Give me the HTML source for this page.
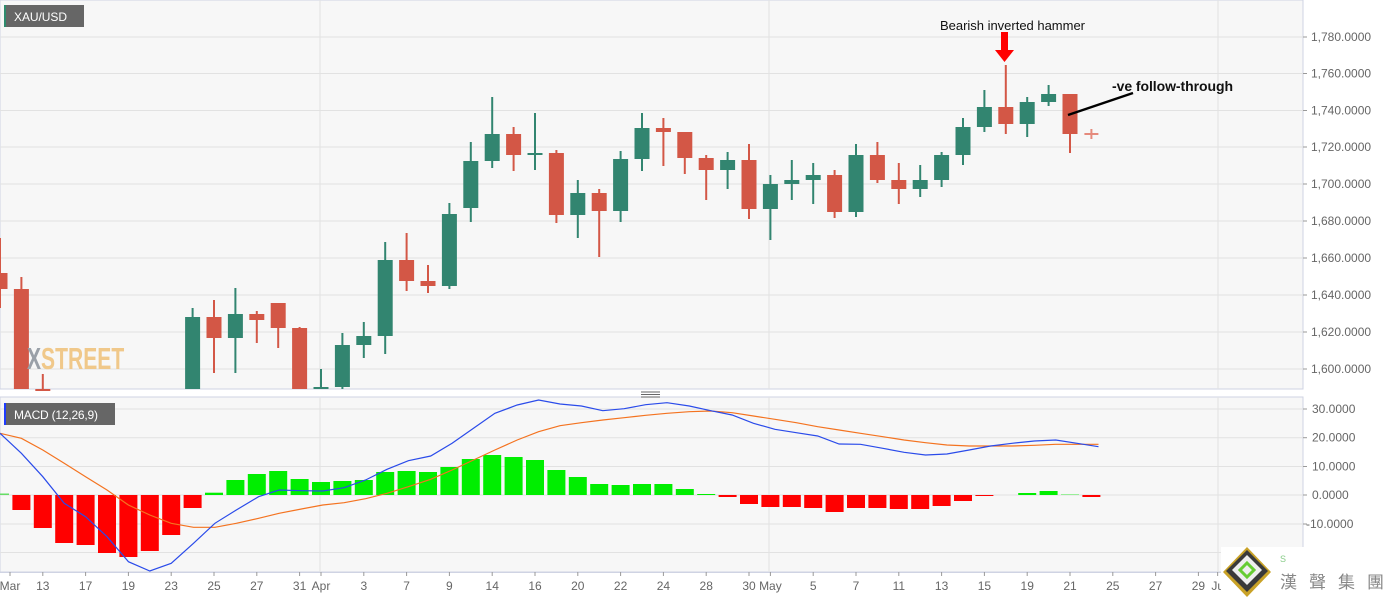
<!DOCTYPE html>
<html><head><meta charset="utf-8"><style>
html,body{margin:0;padding:0;background:#fff;width:1387px;height:598px;overflow:hidden}
svg text{font-family:"Liberation Sans",sans-serif}
</style></head><body>
<svg id="s" width="1387" height="598" xmlns="http://www.w3.org/2000/svg">
<rect x="0" y="0" width="1387" height="598" fill="#fff"/>
<rect x="0" y="0" width="1303" height="389" fill="#f7f7f7" stroke="#cfd3e3"/>
<rect x="0" y="397" width="1303" height="175" fill="#f7f7f7" stroke="#cfd3e3"/>
<g id="grid" stroke="#e2e2e2" stroke-width="1"></g>
<g id="mc"></g>
<g id="hist"></g>
<g id="lines" fill="none" stroke-width="1.2"></g>
<g id="axis" font-size="12" fill="#666"></g>
<g stroke="#666" stroke-width="1"><line x1="641" y1="392" x2="660" y2="392"/><line x1="641" y1="394.5" x2="660" y2="394.5"/><line x1="641" y1="397" x2="660" y2="397"/></g>
<rect x="4" y="5" width="80" height="22" fill="#666"/><rect x="4" y="5" width="2" height="22" fill="#2e8b6e"/>
<text x="14" y="21" font-size="12" fill="#fff" textLength="53">XAU/USD</text>
<rect x="4" y="403" width="111" height="22" fill="#666"/><rect x="4" y="403" width="2" height="22" fill="#1f3cff"/>
<text x="14" y="419" font-size="12" fill="#fff" textLength="84">MACD (12,26,9)</text>
<text x="27" y="369" font-size="31" font-weight="bold" fill="#9aa0a8" transform="translate(27 0) scale(0.68 1) translate(-27 0)">X<tspan fill="#f0c88a">STREET</tspan></text>
<text x="940" y="30" font-size="13" fill="#111" textLength="145">Bearish inverted hammer</text>
<rect x="1001" y="32" width="7" height="20" fill="#f00"/>
<polygon points="995,50 1014,50 1004.5,62" fill="#f00"/>
<text x="1112" y="91" font-size="14" font-weight="bold" fill="#111" textLength="121">-ve follow-through</text>
<line x1="1068" y1="115" x2="1133" y2="93" stroke="#000" stroke-width="2.5"/>
<rect x="1221" y="547" width="166" height="51" fill="#fff"/>
<polygon points="1247,547 1271,572 1247,597 1223,572" fill="#c9a227"/>
<polygon points="1247,550 1268,571 1247,592 1226,571" fill="#3a3a3a"/>
<polygon points="1247,555 1262,570 1247,585 1232,570" fill="#eee"/>
<polygon points="1247,563 1254,570 1247,577 1240,570" fill="none" stroke="#6c3" stroke-width="3"/>
<text x="1280" y="562" font-size="9" fill="#8c8">S</text>
<text x="1280" y="588" font-size="17" fill="#888" font-family="'Noto Sans CJK TC',sans-serif" letter-spacing="12">漢聲集團</text>
</svg>
<script>
var NS="http://www.w3.org/2000/svg";
function el(p,t,a,txt){var e=document.createElementNS(NS,t);for(var k in a)e.setAttribute(k,a[k]);if(txt!==undefined)e.textContent=txt;document.getElementById(p).appendChild(e);return e;}
var dx=21.4;
var ys=[37,73.5,110.5,147,184,221,258,295,332,369];
var lab=["1,780.0000","1,760.0000","1,740.0000","1,720.0000","1,700.0000","1,680.0000","1,660.0000","1,640.0000","1,620.0000","1,600.0000"];
ys.forEach(function(y,i){el("grid","line",{x1:0,x2:1303,y1:y,y2:y});el("grid","line",{x1:1303,x2:1307,y1:y,y2:y,stroke:"#999"});el("axis","text",{x:1311,y:y+4},lab[i]);});
[320,769,1218].forEach(function(x){el("grid","line",{x1:x,x2:x,y1:0,y2:389});el("grid","line",{x1:x,x2:x,y1:397,y2:572});});
var my=[[409,"30.0000"],[437.7,"20.0000"],[466.5,"10.0000"],[495,"0.0000"],[524,"-10.0000"],[552.5,""]];
my.forEach(function(m){el("grid","line",{x1:0,x2:1303,y1:m[0],y2:m[0]});el("grid","line",{x1:1303,x2:1307,y1:m[0],y2:m[0],stroke:"#999"});if(m[1])el("axis","text",{x:m[1][0]=="-"?1306:1312,y:m[0]+4},m[1]);});
el("grid","line",{x1:0,x2:1303,y1:572.5,y2:572.5,stroke:"#cfd3e3"});
var xl=[[0,"Mar"],[2,"13"],[4,"17"],[6,"19"],[8,"23"],[10,"25"],[12,"27"],[14,"31"],[15,"Apr"],[17,"3"],[19,"7"],[21,"9"],[23,"14"],[25,"16"],[27,"20"],[29,"22"],[31,"24"],[33,"28"],[35,"30"],[36,"May"],[38,"5"],[40,"7"],[42,"11"],[44,"13"],[46,"15"],[48,"19"],[50,"21"],[52,"25"],[54,"27"],[56,"29"],[56.9,"Ju"]];
xl.forEach(function(l){var x=l[0]*dx;if(l[0]==0)x=10;el("grid","line",{x1:x,x2:x,y1:572,y2:576,stroke:"#999"});el("axis","text",{x:x,y:590,"text-anchor":"middle"},l[1]);});
var C=[[0,'r',273,289,238,308],[1,'r',289,390,277,390],[2,'r',389,390,374,390],
[9,'g',317,390,308,390],[10,'r',317,338,300,373],[11,'g',314,338,288,373],[12,'r',314,320,311,343],[13,'r',303,328,303,348],[14,'r',328,390,327,390],[15,'g',387,390,369,390],[16,'g',345,387,333,390],[17,'g',336,345,322,358],[18,'g',260,336,242,354],[19,'r',260,281,233,291],[20,'r',281,286,265,293],[21,'g',214,286,203,289],[22,'g',161,208,142,222],[23,'g',134,161,97,168],[24,'r',134,155,127,171],[25,'g',153,155,113,170],[26,'r',153,215,150,223],[27,'g',193,215,180,238],[28,'r',193,211,189,257],[29,'g',159,211,151,222],[30,'g',128,159,113,171],[31,'r',128,132,118,166],
[32,'r',132,158,132,174],[33,'r',158,170,155,200],[34,'g',160,170,152,189],[35,'r',160,209,144,219],[36,'g',184,209,175,240],[37,'g',180,184,160,200],[38,'g',175,180,163,204],[39,'r',175,212,170,218],[40,'g',155,212,144,217],[41,'r',155,180,142,183],[42,'r',180,189,163,204],[43,'g',180,189,165,197],[44,'g',155,180,152,187],[45,'g',127,155,118,165],[46,'g',107,127,90,132],[47,'r',107,124,65,134],[48,'g',102,124,97,137],[49,'g',94,102,85,106],[50,'r',94,134,94,153]];
C.forEach(function(c){var x=c[0]*dx;var col=c[1]=='g'?'#328570':'#d35746';el("mc","line",{x1:x,x2:x,y1:c[4],y2:Math.min(c[5],389),stroke:col,"stroke-width":2});el("mc","rect",{x:x-7.5,y:c[2],width:15,height:Math.max(2,Math.min(c[3],389)-c[2]),fill:col});});
var x51=51*dx;el("mc","line",{x1:x51-7,x2:x51+7,y1:134,y2:134,stroke:"#e58a7c","stroke-width":2});el("mc","line",{x1:x51,x2:x51,y1:129,y2:139,stroke:"#e58a7c","stroke-width":2});
var H=[493.5,510,528,543,545,553,557,551,535,508,492.7,480,474,471,479,482,481,480,472,471,472,467,459,455,457,460,470,477,484,485,484,484,489,494,497,504,507,507,508,512,508,508,509,509,506,501,496,495,493,491,494,497];
H.forEach(function(v,k){var x=k*dx;var up=v<495;var col=up?'#00ee00':'#f00';if(k==50)col='#99ee99';if(k==0)col='#66dd66';var y0=Math.min(v,495),h=Math.abs(v-495);if(h<0.5)return;if(h<1)h=1;el("hist","rect",{x:x-9,y:y0,width:18,height:h,fill:col});});
var B=[[0,130],[24,190],[48,260],[72,340],[96,380],[120,440],[144,515],[168,543],[192,520],[217,460],[241,400],[265,360],[290,320],[313,300],[338,302],[362,303],[386,293],[410,270],[434,238],[458,212],[483,198],[507,160],[531,115],[555,70],[580,45],[604,30],[628,42],[652,48],[676,62],[700,56],[724,44],[748,38],[773,48],[797,62],[821,75],[845,100],[869,118],[893,128],[917,138],[941,162],[965,163],[990,175],[1014,187],[1038,195],[1062,192],[1087,180],[1111,168],[1135,160],[1160,153],[1184,150],[1208,160],[1232,170]];
var O=[[0,130],[24,145],[48,180],[72,220],[96,260],[120,300],[144,345],[168,375],[192,400],[217,412],[241,412],[265,400],[290,385],[313,370],[338,357],[362,345],[386,338],[410,326],[434,310],[458,290],[483,268],[507,240],[531,210],[555,180],[580,150],[604,125],[628,107],[652,98],[676,90],[700,83],[724,76],[748,70],[773,65],[797,63],[821,68],[845,78],[869,88],[893,98],[917,110],[941,120],[965,130],[990,140],[1014,150],[1038,158],[1062,165],[1087,168],[1111,168],[1135,168],[1160,166],[1184,163],[1208,163],[1232,163]];
function pts(a){return a.map(function(p){return (p[0]*dx/24).toFixed(1)+","+(390+p[1]/3).toFixed(1)}).join(" ");}
el("lines","polyline",{points:pts(O),stroke:"#f47320"});
el("lines","polyline",{points:pts(B),stroke:"#2a4bea"});
</script>
</body></html>
